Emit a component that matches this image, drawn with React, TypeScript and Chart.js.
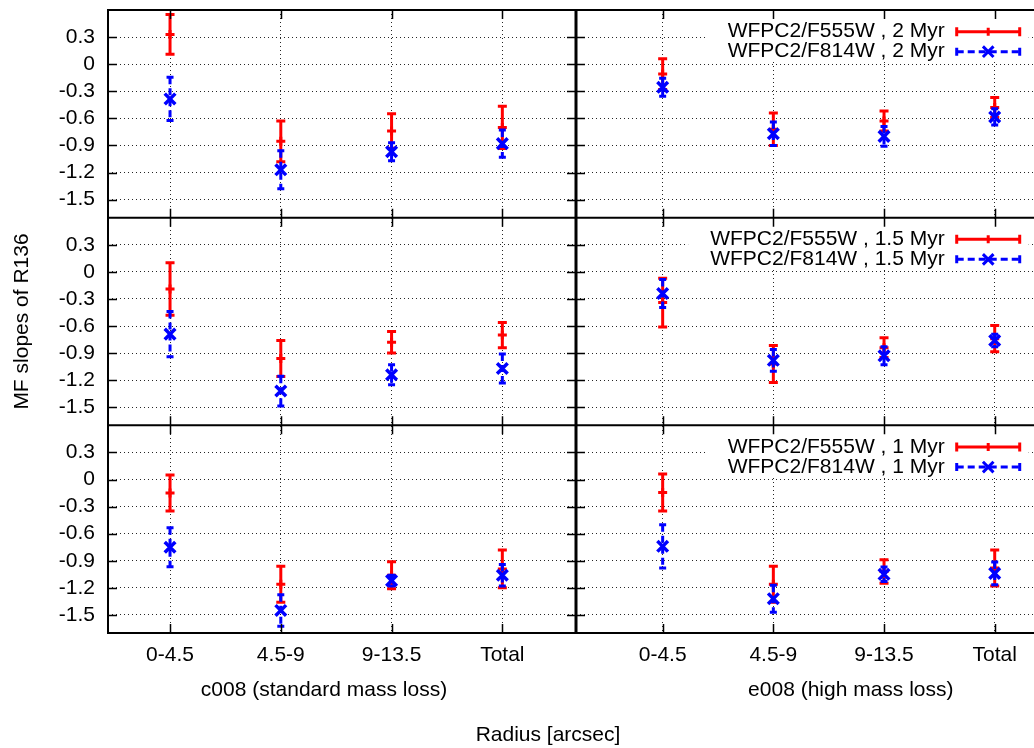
import React, { useEffect, useRef } from 'react';
import { Chart, registerables } from 'chart.js';

Chart.register(...registerables);

// ---------- data ----------
const CATEGORIES = ['0-4.5', '4.5-9', '9-13.5', 'Total'];
const X_POSITIONS = [1, 2, 3, 4];
const Y_TICKS = [0.3, 0, -0.3, -0.6, -0.9, -1.2, -1.5];
const Y_TICK_LABELS = ['0.3', '0', '-0.3', '-0.6', '-0.9', '-1.2', '-1.5'];
const AGES = ['2 Myr', '1.5 Myr', '1 Myr'];
const MODEL_LABELS = ['c008 (standard mass loss)', 'e008 (high mass loss)'];
const X_TITLE = 'Radius [arcsec]';
const Y_TITLE = 'MF slopes of R136';

// c008, 2 Myr
const c008_2_F555W = [0.33, -0.855, -0.74, -0.70];
const c008_2_F555W_err = [0.22, 0.225, 0.19, 0.235];
const c008_2_F814W = [-0.385, -1.17, -0.97, -0.88];
const c008_2_F814W_err = [0.24, 0.21, 0.10, 0.15];
// e008, 2 Myr
const e008_2_F555W = [-0.11, -0.72, -0.63, -0.48];
const e008_2_F555W_err = [0.17, 0.18, 0.11, 0.11];
const e008_2_F814W = [-0.255, -0.77, -0.80, -0.585];
const e008_2_F814W_err = [0.10, 0.13, 0.11, 0.09];
// c008, 1.5 Myr
const c008_15_F555W = [-0.19, -0.96, -0.78, -0.70];
const c008_15_F555W_err = [0.29, 0.20, 0.12, 0.14];
const c008_15_F814W = [-0.69, -1.32, -1.14, -1.07];
const c008_15_F814W_err = [0.25, 0.165, 0.11, 0.16];
// e008, 1.5 Myr
const e008_15_F555W = [-0.34, -1.02, -0.84, -0.74];
const e008_15_F555W_err = [0.27, 0.205, 0.11, 0.145];
const e008_15_F814W = [-0.24, -0.98, -0.93, -0.76];
const e008_15_F814W_err = [0.155, 0.12, 0.10, 0.07];
// c008, 1 Myr
const c008_1_F555W = [-0.15, -1.16, -1.06, -0.99];
const c008_1_F555W_err = [0.20, 0.20, 0.15, 0.21];
const c008_1_F814W = [-0.75, -1.45, -1.12, -1.06];
const c008_1_F814W_err = [0.215, 0.175, 0.06, 0.12];
// e008, 1 Myr
const e008_1_F555W = [-0.145, -1.16, -1.02, -0.98];
const e008_1_F555W_err = [0.205, 0.20, 0.13, 0.20];
const e008_1_F814W = [-0.74, -1.32, -1.05, -1.04];
const e008_1_F814W_err = [0.24, 0.15, 0.08, 0.125];

const PANELS = [
  { row: 0, col: 0, red: c008_2_F555W, redErr: c008_2_F555W_err, blue: c008_2_F814W, blueErr: c008_2_F814W_err },
  { row: 0, col: 1, red: e008_2_F555W, redErr: e008_2_F555W_err, blue: e008_2_F814W, blueErr: e008_2_F814W_err },
  { row: 1, col: 0, red: c008_15_F555W, redErr: c008_15_F555W_err, blue: c008_15_F814W, blueErr: c008_15_F814W_err },
  { row: 1, col: 1, red: e008_15_F555W, redErr: e008_15_F555W_err, blue: e008_15_F814W, blueErr: e008_15_F814W_err },
  { row: 2, col: 0, red: c008_1_F555W, redErr: c008_1_F555W_err, blue: c008_1_F814W, blueErr: c008_1_F814W_err },
  { row: 2, col: 1, red: e008_1_F555W, redErr: e008_1_F555W_err, blue: e008_1_F814W, blueErr: e008_1_F814W_err },
];

// ---------- styles ----------
const FONT = "'Liberation Sans', Arial, Helvetica, sans-serif";
const FS = 21;
const RED = '#ff0000';
const BLUE = '#0000ff';
const BLUE_DASH = [7, 4];
const GRID_COLOR = 'rgba(0,0,0,0.85)';

function drawErrorBars(ctx, xs, ys, values, errs, color, dashed) {
  ctx.save();
  ctx.strokeStyle = color;
  ctx.lineWidth = 3;
  ctx.lineCap = 'butt';
  values.forEach((v, i) => {
    const px = xs.getPixelForValue(X_POSITIONS[i]);
    const top = ys.getPixelForValue(v + errs[i]);
    const bot = ys.getPixelForValue(v - errs[i]);
    ctx.setLineDash(dashed ? BLUE_DASH : []);
    ctx.beginPath();
    ctx.moveTo(px, top);
    ctx.lineTo(px, bot);
    ctx.stroke();
    ctx.setLineDash([]);
    const hw = dashed ? 3.5 : 4.5;
    ctx.beginPath();
    ctx.moveTo(px - hw, top);
    ctx.lineTo(px + hw, top);
    ctx.moveTo(px - hw, bot);
    ctx.lineTo(px + hw, bot);
    ctx.stroke();
  });
  ctx.restore();
}

const errorBarPlugin = {
  id: 'errorBars',
  beforeDatasetDraw(chart, args) {
    const ds = chart.data.datasets[args.index];
    if (!ds.errors) return;
    const meta = args.meta;
    drawErrorBars(chart.ctx, meta.xScale, meta.yScale, ds.values, ds.errors, ds.borderColor, ds.dashedBars);
  },
};

function drawLegend(ctx, xs, ys, age) {
  const p4 = xs.getPixelForValue(4);
  const textRight = p4 - 50;
  const s0 = p4 - 38;
  const s1 = p4 + 25;
  const sc = (s0 + s1) / 2;
  const y1 = ys.top + 21.7;
  const y2 = ys.top + 41.7;
  const t1 = `WFPC2/F555W , ${age}`;
  const t2 = `WFPC2/F814W , ${age}`;
  ctx.save();
  ctx.font = `${FS}px ${FONT}`;
  const w = Math.max(ctx.measureText(t1).width, ctx.measureText(t2).width);
  const boxLeft = textRight - w - 22;
  ctx.fillStyle = '#fff';
  ctx.fillRect(boxLeft, ys.top + 3, p4 + 34 - boxLeft, 49);
  ctx.fillStyle = '#000';
  ctx.textAlign = 'right';
  ctx.textBaseline = 'middle';
  ctx.fillText(t1, textRight, y1);
  ctx.fillText(t2, textRight, y2);
  // red sample
  ctx.strokeStyle = RED;
  ctx.lineWidth = 3;
  ctx.setLineDash([]);
  ctx.beginPath();
  ctx.moveTo(s0, y1); ctx.lineTo(s1, y1);
  ctx.moveTo(s0, y1 - 4.5); ctx.lineTo(s0, y1 + 4.5);
  ctx.moveTo(s1, y1 - 4.5); ctx.lineTo(s1, y1 + 4.5);
  ctx.moveTo(sc, y1 - 4); ctx.lineTo(sc, y1 + 4);
  ctx.stroke();
  // blue sample
  ctx.strokeStyle = BLUE;
  ctx.setLineDash(BLUE_DASH);
  ctx.beginPath();
  ctx.moveTo(s0, y2); ctx.lineTo(s1, y2);
  ctx.stroke();
  ctx.setLineDash([]);
  ctx.beginPath();
  ctx.moveTo(s0, y2 - 4); ctx.lineTo(s0, y2 + 4);
  ctx.moveTo(s1, y2 - 4); ctx.lineTo(s1, y2 + 4);
  const o = 5.3;
  ctx.moveTo(sc - o, y2 - o); ctx.lineTo(sc + o, y2 + o);
  ctx.moveTo(sc - o, y2 + o); ctx.lineTo(sc + o, y2 - o);
  ctx.stroke();
  ctx.restore();
}

const framePlugin = {
  id: 'gnuFrame',
  afterDatasetsDraw(chart) {
    const ctx = chart.ctx;
    const a = chart.chartArea;
    const xsAll = [chart.scales.xL, chart.scales.xR];
    const ysAll = [chart.scales.y0, chart.scales.y1, chart.scales.y2];
    ysAll.forEach((ys, r) => drawLegend(ctx, xsAll[1], ys, AGES[r]));

    ctx.save();
    ctx.strokeStyle = '#000';
    ctx.setLineDash([]);
    ctx.lineWidth = 1.5;
    ctx.beginPath();
    xsAll.forEach((xs, c) => {
      ysAll.forEach((ys) => {
        xs.ticks.forEach((t) => {
          const px = Math.round(xs.getPixelForValue(t.value)) + 0.5;
          ctx.moveTo(px, ys.top); ctx.lineTo(px, ys.top + 9);
          ctx.moveTo(px, ys.bottom); ctx.lineTo(px, ys.bottom - 9);
        });
        ys.ticks.forEach((t) => {
          const py = Math.round(ys.getPixelForValue(t.value)) + 0.5;
          ctx.moveTo(xs.left, py); ctx.lineTo(xs.left + 9, py);
          if (c === 0) {
            ctx.moveTo(xs.right, py); ctx.lineTo(xs.right - 9, py);
          }
        });
      });
    });
    ctx.stroke();

    ctx.lineWidth = 2;
    ctx.beginPath();
    ysAll.forEach((ys) => {
      ctx.moveTo(a.left, ys.top); ctx.lineTo(a.right, ys.top);
    });
    ctx.moveTo(a.left, a.bottom); ctx.lineTo(a.right, a.bottom);
    ctx.moveTo(a.left, a.top - 1); ctx.lineTo(a.left, a.bottom + 1);
    ctx.stroke();
    ctx.lineWidth = 3;
    ctx.beginPath();
    ctx.moveTo(xsAll[0].right, a.top - 1); ctx.lineTo(xsAll[0].right, a.bottom + 1);
    ctx.stroke();

    // x titles
    ctx.fillStyle = '#000';
    ctx.font = `${FS}px ${FONT}`;
    ctx.textAlign = 'center';
    ctx.textBaseline = 'middle';
    ctx.fillText(MODEL_LABELS[0], xsAll[0].getPixelForValue(2.39), a.bottom + 57);
    ctx.fillText(MODEL_LABELS[1], xsAll[1].getPixelForValue(2.70), a.bottom + 57);
    ctx.fillText(X_TITLE, xsAll[0].right - 28, a.bottom + 102);
    ctx.restore();
  },
};

function yScale(row) {
  return {
    type: 'linear',
    axis: 'y',
    position: 'left',
    stack: 'rows',
    stackWeight: 1,
    weight: 3 - row,
    min: -1.7,
    max: 0.6,
    afterBuildTicks: (s) => {
      s.ticks = Y_TICKS.map((v) => ({ value: v }));
    },
    afterFit: (s) => {
      s.width = 108;
      s.paddingTop = 0;
      s.paddingBottom = 0;
    },
    ticks: {
      autoSkip: false,
      padding: 13,
      color: '#000',
      font: { family: FONT, size: FS },
      callback: (v) => {
        const i = Y_TICKS.findIndex((t) => Math.abs(t - v) < 1e-9);
        return i >= 0 ? Y_TICK_LABELS[i] : '';
      },
    },
    grid: { color: GRID_COLOR, lineWidth: 1, drawTicks: false },
    border: { display: false, dash: [1, 3] },
    title: row === 1
      ? { display: true, text: Y_TITLE, color: '#000', font: { family: FONT, size: FS }, padding: { top: 10, bottom: 0 } }
      : { display: false },
  };
}

function xScale(col) {
  return {
    type: 'linear',
    axis: 'x',
    position: 'bottom',
    stack: 'cols',
    stackWeight: col === 0 ? 468 : 458,
    weight: col + 1,
    min: col === 0 ? 0.44 : 0.217,
    max: col === 0 ? 4.665 : 4.355,
    afterBuildTicks: (s) => {
      s.ticks = X_POSITIONS.map((v) => ({ value: v }));
    },
    afterFit: (s) => {
      s.height = 115;
      s.paddingLeft = 0;
      s.paddingRight = 0;
    },
    ticks: {
      autoSkip: false,
      maxRotation: 0,
      minRotation: 0,
      padding: 10,
      color: '#000',
      font: { family: FONT, size: FS },
      callback: (v) => CATEGORIES[Math.round(v) - 1] ?? '',
    },
    grid: { color: GRID_COLOR, lineWidth: 1, drawTicks: false },
    border: { display: false, dash: [1, 3] },
  };
}

function buildDatasets() {
  const out = [];
  PANELS.forEach((p) => {
    const xId = p.col === 0 ? 'xL' : 'xR';
    const yId = 'y' + p.row;
    out.push({
      label: `WFPC2/F555W , ${AGES[p.row]}`,
      data: X_POSITIONS.map((x, i) => ({ x, y: p.red[i] })),
      values: p.red,
      errors: p.redErr,
      dashedBars: false,
      xAxisID: xId,
      yAxisID: yId,
      borderColor: RED,
      backgroundColor: RED,
      pointStyle: 'cross',
      pointRadius: 4.5,
      pointBorderWidth: 3,
      borderWidth: 3,
      showLine: false,
      order: 1,
    });
    out.push({
      label: `WFPC2/F814W , ${AGES[p.row]}`,
      data: X_POSITIONS.map((x, i) => ({ x, y: p.blue[i] })),
      values: p.blue,
      errors: p.blueErr,
      dashedBars: true,
      xAxisID: xId,
      yAxisID: yId,
      borderColor: BLUE,
      backgroundColor: BLUE,
      pointStyle: 'crossRot',
      pointRadius: 7.5,
      pointBorderWidth: 3.5,
      borderWidth: 3,
      showLine: false,
      order: 0,
    });
  });
  return out;
}

export default function App() {
  const ref = useRef<HTMLCanvasElement | null>(null);
  useEffect(() => {
    if (!ref.current) return;
    Chart.defaults.font.family = FONT;
    Chart.defaults.font.size = FS;
    const chart = new Chart(ref.current, {
      type: 'scatter',
      data: { datasets: buildDatasets() as any },
      options: {
        animation: false,
        responsive: false,
        maintainAspectRatio: false,
        devicePixelRatio: 1,
        layout: { autoPadding: false, padding: { top: 10, left: 0, right: 0, bottom: 0 } },
        plugins: { legend: { display: false }, tooltip: { enabled: false }, title: { display: false } },
        events: [],
        scales: {
          y0: yScale(0),
          y1: yScale(1),
          y2: yScale(2),
          xL: xScale(0),
          xR: xScale(1),
        } as any,
      },
      plugins: [errorBarPlugin, framePlugin],
    });
    return () => chart.destroy();
  }, []);
  return (
    <div style={{ position: 'absolute', left: 0, top: 0, width: 1034, height: 748, background: '#fff', overflow: 'hidden' }}>
      <canvas ref={ref} width={1034} height={748} style={{ display: 'block', width: 1034, height: 748 }} />
    </div>
  );
}
